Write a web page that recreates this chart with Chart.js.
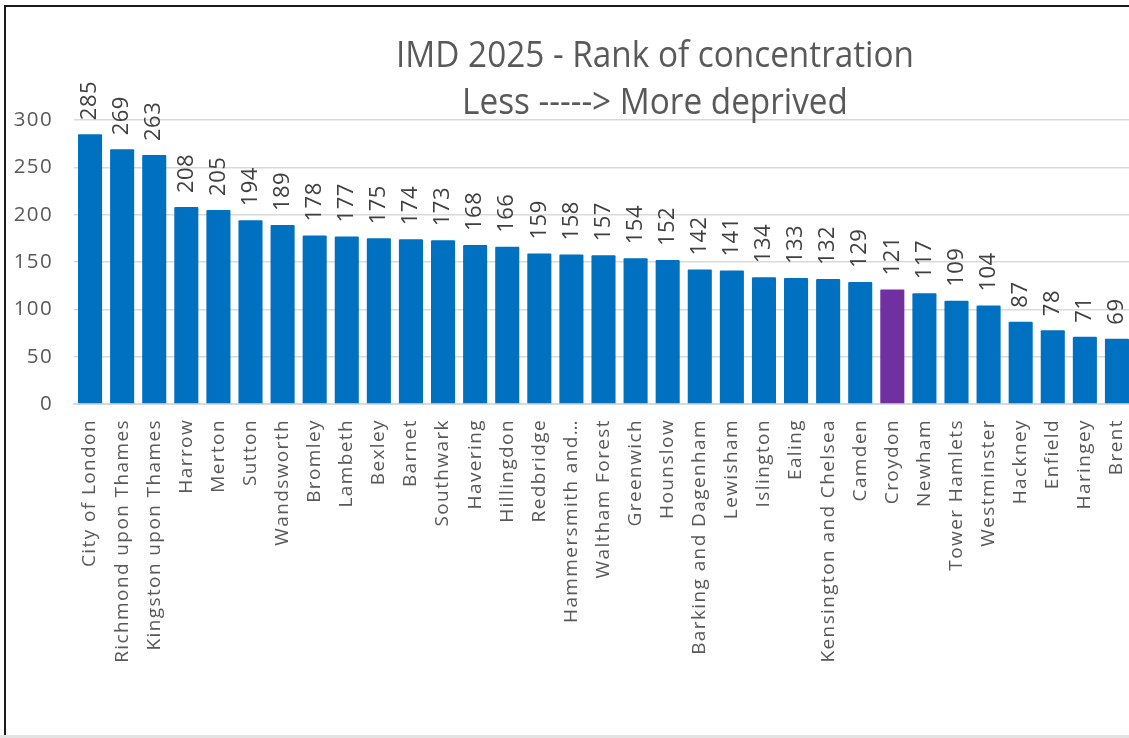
<!DOCTYPE html>
<html lang="en">
<head>
    <meta charset="UTF-8">
    <title>IMD 2025 - Rank of concentration</title>
    <script src="https://cdn.jsdelivr.net/npm/chart.js"></script>
    <style>
        html, body { margin: 0; padding: 0; background: #fff; overflow: hidden; }
        #frame {
            position: absolute; left: 4px; top: 5px;
            width: 1300px; height: 730px;
            border-left: 2px solid #1a1a1a; border-top: 2px solid #1a1a1a;
            overflow: hidden; background: #fff;
        }
        #strip { position: absolute; left: 0; top: 735px; width: 1129px; height: 3px; background: #e3e3e3; }
    </style>
</head>
<body>
<div id="frame"><canvas id="imdChart" width="1300" height="728"></canvas></div>
<div id="strip"></div>

<script>
    // Boroughs, ordered from less to more deprived
    const boroughs = [
        'City of London', 'Richmond upon Thames', 'Kingston upon Thames', 'Harrow', 'Merton',
        'Sutton', 'Wandsworth', 'Bromley', 'Lambeth', 'Bexley', 'Barnet', 'Southwark',
        'Havering', 'Hillingdon', 'Redbridge', 'Hammersmith and\u2026', 'Waltham Forest',
        'Greenwich', 'Hounslow', 'Barking and Dagenham', 'Lewisham', 'Islington', 'Ealing',
        'Kensington and Chelsea', 'Camden', 'Croydon', 'Newham', 'Tower Hamlets',
        'Westminster', 'Hackney', 'Enfield', 'Haringey', 'Brent'
    ];
    const rankOfConcentration = [
        285, 269, 263, 208, 205, 194, 189, 178, 177, 175, 174, 173, 168, 166, 159, 158, 157,
        154, 152, 142, 141, 134, 133, 132, 129, 121, 117, 109, 104, 87, 78, 71, 69
    ];
    const yTicks = [0, 50, 100, 150, 200, 250, 300];
    const highlight = 'Croydon';
    const titleLines = ['IMD 2025 - Rank of concentration', 'Less -----> More deprived'];

    const FONT = '"Open Sans", sans-serif';
    const BLUE = '#0070C0';
    const PURPLE = '#7030A0';

    // the sheet's text is a touch more spread out than Open Sans
    const spacing = {
        id: 'spacing',
        beforeDraw(chart) { chart.ctx.letterSpacing = '1.4px'; },
        afterDraw(chart) { chart.ctx.letterSpacing = '0px'; }
    };

    // two-line title, centred where the original sheet had it
    const titlePlugin = {
        id: 'sheetTitle',
        afterDraw(chart) {
            const ctx = chart.ctx;
            ctx.save();
            ctx.letterSpacing = '0px';
            ctx.fillStyle = '#595959';
            ctx.font = '37px ' + FONT;
            ctx.textAlign = 'center';
            ctx.textBaseline = 'alphabetic';
            ctx.translate(649, 0);
            ctx.scale(0.9, 1);
            ctx.fillText(titleLines[0], 0, 60);
            ctx.fillText(titleLines[1], 0, 107);
            ctx.restore();
        }
    };

    // vertical value labels on top of each bar
    const valueLabels = {
        id: 'valueLabels',
        afterDatasetsDraw(chart) {
            const ctx = chart.ctx;
            const meta = chart.getDatasetMeta(0);
            ctx.save();
            ctx.letterSpacing = '0.5px';
            ctx.fillStyle = '#404040';
            ctx.font = '22px ' + FONT;
            ctx.textAlign = 'left';
            ctx.textBaseline = 'middle';
            meta.data.forEach((bar, i) => {
                ctx.save();
                ctx.translate(bar.x, bar.y - 14);
                ctx.rotate(-Math.PI / 2);
                ctx.fillText(String(rankOfConcentration[i]), 0, 0);
                ctx.restore();
            });
            ctx.restore();
        }
    };

    const ctx = document.getElementById('imdChart').getContext('2d');
    const imdChart = new Chart(ctx, {
        type: 'bar',
        data: {
            labels: boroughs,
            datasets: [{
                data: rankOfConcentration,
                backgroundColor: boroughs.map(b => b === highlight ? PURPLE : BLUE),
                barPercentage: 0.75,
                categoryPercentage: 1,
                borderRadius: 1
            }]
        },
        options: {
            responsive: false,
            animation: false,
            devicePixelRatio: 1,
            layout: { padding: { top: 113, left: 6, right: 173, bottom: 0 } },
            plugins: {
                legend: { display: false },
                tooltip: { enabled: false },
                title: { display: false }
            },
            scales: {
                x: {
                    grid: { display: false },
                    border: { color: '#d9d9d9', width: 2 },
                    ticks: {
                        color: '#595959',
                        font: { family: FONT, size: 19 },
                        minRotation: 90,
                        maxRotation: 90,
                        autoSkip: false,
                        padding: 7
                    },
                    afterFit(scale) { scale.height = 331; }
                },
                y: {
                    min: 0,
                    max: 300,
                    afterBuildTicks(scale) { scale.ticks = yTicks.map(v => ({ value: v })); },
                    grid: { color: '#d9d9d9', lineWidth: 1.5, drawTicks: false },
                    border: { display: false },
                    ticks: {
                        color: '#595959',
                        font: { family: FONT, size: 20.5 },
                        padding: 21
                    },
                    afterFit(scale) { scale.width = 62; }
                }
            }
        },
        plugins: [spacing, titlePlugin, valueLabels]
    });
</script>

</body>
</html>
